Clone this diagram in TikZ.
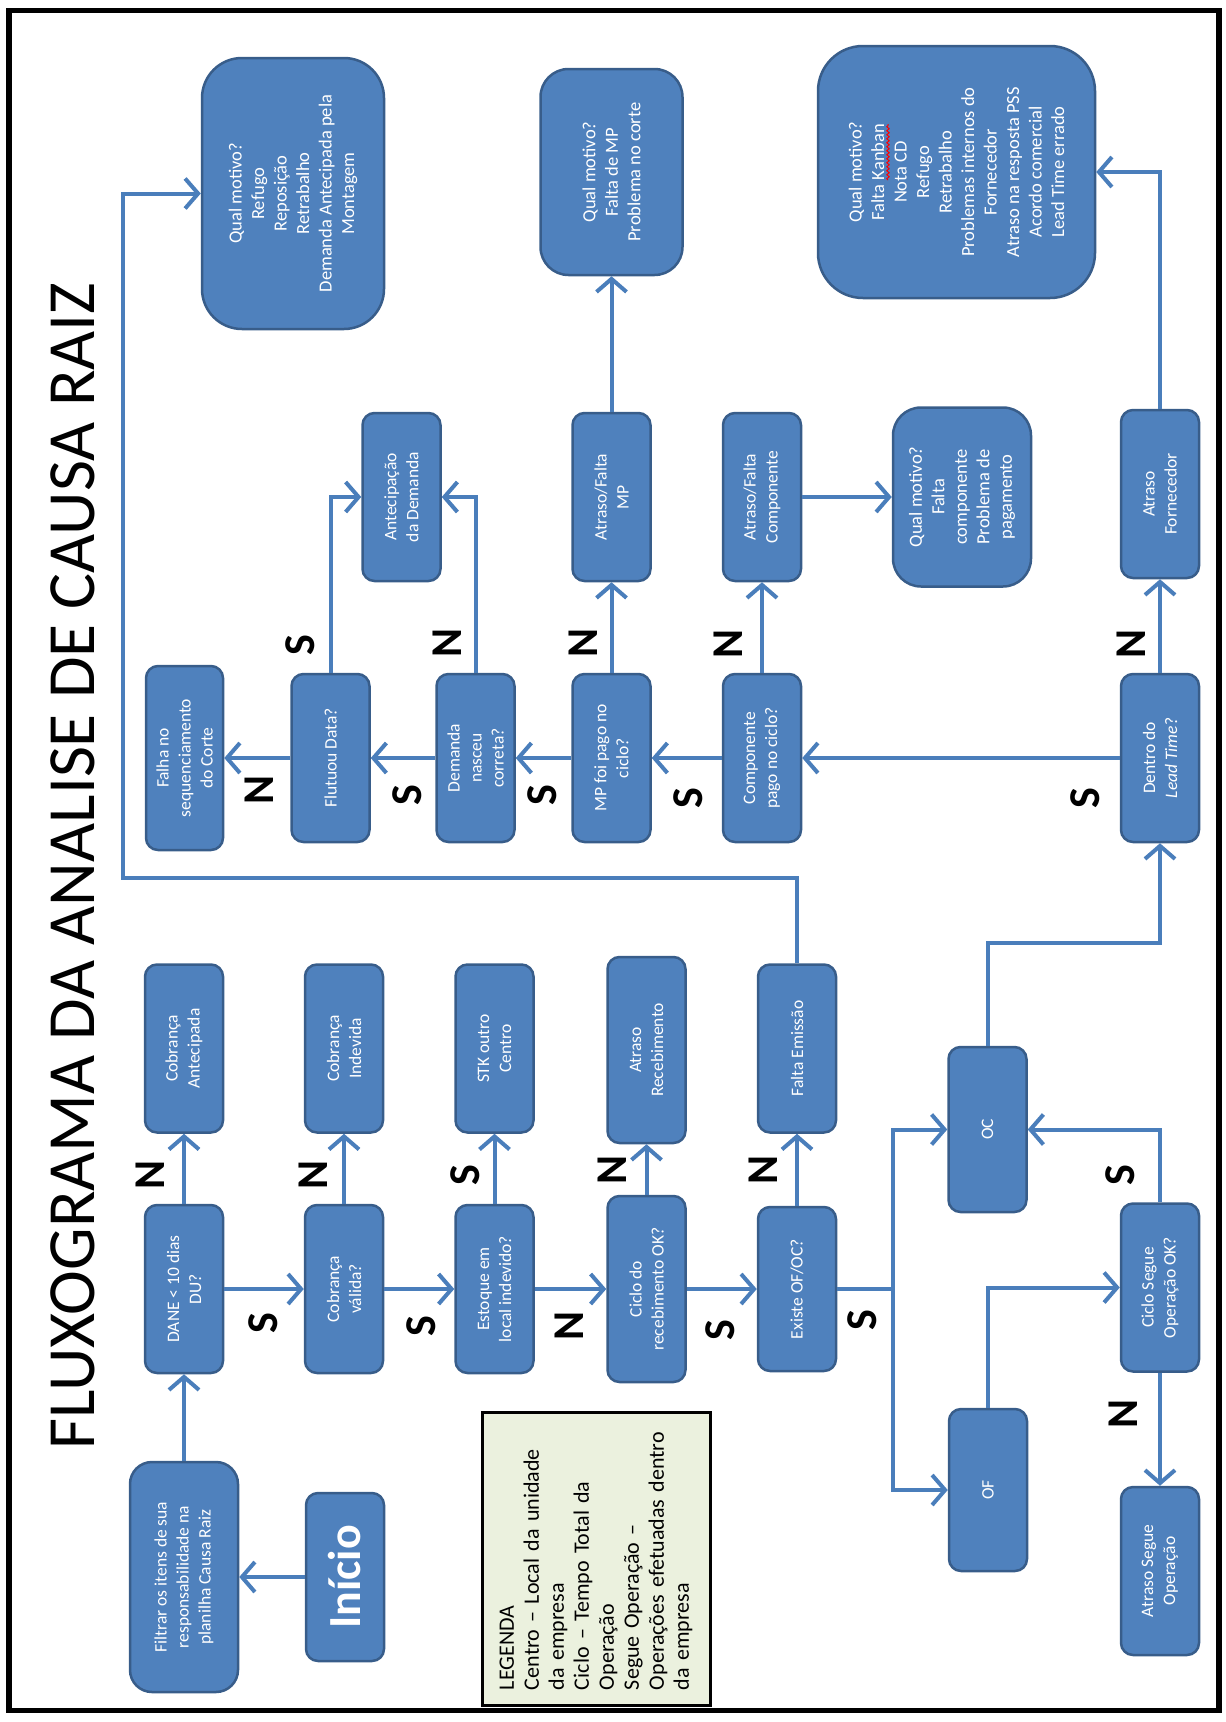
\documentclass[tikz,border=0pt]{standalone}
\usepackage{fontspec}
\setmainfont{Carlito}
\usetikzlibrary{arrows.meta,math,decorations.pathmorphing}

\definecolor{caixaazul}{RGB}{79,129,189}
\definecolor{bordaazul}{RGB}{56,93,138}
\definecolor{linhaazul}{RGB}{74,126,187}
\definecolor{fundoleg}{RGB}{235,241,222}

\begin{document}
\begin{tikzpicture}[x=1pt,y=-1pt,
	caixa/.style={rectangle,rounded corners=12pt,draw=bordaazul,line width=2.5pt,
		fill=caixaazul,text=white,align=center,rotate=90,inner sep=3pt,
		minimum width=168pt,minimum height=78pt,font=\fontsize{17.5}{22}\selectfont},
	motivo/.style={caixa,font=\fontsize{18.5}{22.5}\selectfont},
	seta/.style={draw=linhaazul,line width=4pt,-{Straight Barb[length=13pt,width=30pt]}},
	linha/.style={draw=linhaazul,line width=4pt},
	sn/.style={rotate=90,font=\fontsize{44}{44}\selectfont\bfseries}]

\tikzmath{
	real	\ya, \yb, \yc, \yd;
	\ya = 497;	% caixas de cima
	\yb = 758;	% decisoes de cima
	\yc = 1048.5;	% caixas do meio
	\yd = 1289;	% decisoes de baixo
}

\useasboundingbox (0,0) rectangle (1226,1722);
\draw[line width=5.5pt] (9,10.5) rectangle (1219,1710.5);

\node (titulo) at (73,866) [rotate=90,font=\fontsize{67.5}{67.5}\selectfont]
	{FLUXOGRAMA DA ANALISE DE CAUSA RAIZ};

% inicio
\node (filtrar) at (184,1577) [caixa,rounded corners=22pt,minimum width=230pt,minimum height=108pt]
	{Filtrar os itens de sua\\responsabilidade na\\planilha Causa Raiz};
\node (inicio) at (345,1577) [caixa,font=\fontsize{46}{46}\selectfont\bfseries] {Início};

% decisoes de baixo
\node (dane) at (184,{\yd}) [caixa] {DANE < 10 dias\\DU?};
\node (cobval) at (344,{\yd}) [caixa] {Cobrança\\válida?};
\node (estoque) at (494.5,{\yd}) [caixa] {Estoque em\\local indevido?};
\node (ciclorec) at (646.5,{\yd}) [caixa,minimum width=186pt] {Ciclo do\\recebimento OK?};
\node (existe) at (797,{\yd}) [caixa,minimum width=164pt] {Existe OF/OC?};

\node (cobant) at (184,{\yc}) [caixa] {Cobrança\\Antecipada};
\node (cobind) at (344,{\yc}) [caixa] {Cobrança\\Indevida};
\node (stk) at (494.5,{\yc}) [caixa] {STK outro\\Centro};
\node (atrrec) at (646.5,1050) [caixa,minimum width=186pt] {Atraso\\Recebimento};
\node (faltaem) at (797,{\yc}) [caixa] {Falta Emissão};

\node (oc) at (987.5,1129.5) [caixa,minimum width=165pt] {OC};
\node (of) at (988,1490) [caixa,minimum width=162pt] {OF};
\node (cicloseg) at (1160,1287.5) [caixa] {Ciclo Segue\\Operação OK?};
\node (atrseg) at (1160,1571) [caixa] {Atraso Segue\\Operação};

% decisoes de cima
\node (falha) at (184.5,{\yb}) [caixa,minimum width=184pt,minimum height=77pt]
	{Falha no\\sequenciamento\\do Corte};
\node (flut) at (330.5,{\yb}) [caixa] {Flutuou Data?};
\node (dem) at (475.5,{\yb}) [caixa] {Demanda\\nasceu\\correta?};
\node (mp) at (611.5,{\yb}) [caixa] {MP foi pago no\\ciclo?};
\node (comp) at (762,{\yb}) [caixa] {Componente\\pago no ciclo?};
\node (dentro) at (1160,{\yb}) [caixa] {Dentro do\\\textit{Lead Time}?};

\node (antec) at (401.5,{\ya}) [caixa] {Antecipação\\da Demanda};
\node (atrmp) at (611.5,{\ya}) [caixa] {Atraso/Falta\\MP};
\node (atrcomp) at (762,{\ya}) [caixa] {Atraso/Falta\\Componente};
\node (atrforn) at (1160,494) [caixa] {Atraso\\Fornecedor};

\node (qualref) at (293,193.5) [motivo,rounded corners=40pt,minimum width=271pt,minimum height=182pt]
	{Qual motivo?\\Refugo\\Reposição\\Retrabalho\\Demanda Antecipada pela\\Montagem};
\node (qualmp) at (611.5,172) [motivo,rounded corners=28pt,minimum width=206pt,minimum height=142pt]
	{Qual motivo?\\Falta de MP\\Problema no corte};
\node (qualcomp) at (962,{\ya}) [motivo,rounded corners=28pt,minimum width=179pt,minimum height=138pt]
	{Qual motivo?\\Falta\\componente\\Problema de\\pagamento};
\node (kanban) at (956.5,172) [motivo,rounded corners=45pt,minimum width=252pt,minimum height=277pt]
	{Qual motivo?\\Falta Kanban\\Nota CD\\Refugo\\Retrabalho\\Problemas internos do\\Fornecedor\\Atraso na resposta PSS\\Acordo comercial\\Lead Time errado};
\draw[red,line width=1pt,decorate,decoration={snake,amplitude=1.2pt,segment length=4pt}]
	(888,180)--(888,124);

\node (legenda) at (596,1558.5) [rotate=90,draw=black,line width=3pt,fill=fundoleg,
	minimum width=293pt,minimum height=228pt,text width=263pt,inner xsep=15pt,
	align=left,font=\fontsize{22}{25}\selectfont]
	{LEGENDA\\Centro -- Local da unidade\\da empresa\\Ciclo -- Tempo Total da\\Operação\\Segue Operação --\\Operações efetuadas dentro\\da empresa};

% setas
\draw[seta] (inicio) -- (filtrar);
\draw[seta] (filtrar) -- (dane);
\draw[seta] (dane) -- (cobval);
\draw[seta] (cobval) -- (estoque);
\draw[seta] (estoque) -- (ciclorec);
\draw[seta] (ciclorec) -- (existe);
\draw[seta] (dane) -- (cobant);
\draw[seta] (cobval) -- (cobind);
\draw[seta] (estoque) -- (stk);
\draw[seta] (ciclorec) -- (atrrec);
\draw[seta] (existe) -- (faltaem);

\coordinate (ramo) at (893,{\yd});
\draw[linha] (existe) -- (ramo);
\draw[seta] (ramo) |- (oc);
\draw[seta] (ramo) |- (of);
\draw[seta] (of) |- (cicloseg);
\draw[seta] (cicloseg) |- (oc);
\draw[seta] (cicloseg) -- (atrseg);

\coordinate (canto) at (1160,943);
\draw[seta] (oc) |- (canto) -- (dentro);
\draw[seta] (dentro) -- (atrforn);
\draw[seta] (atrforn) |- (kanban);
\draw[seta] (dentro) -- (comp);
\draw[seta] (comp) -- (mp);
\draw[seta] (mp) -- (dem);
\draw[seta] (dem) -- (flut);
\draw[seta] (flut) -- (falha);
\draw[seta] (flut) |- (antec);
\draw[seta] (dem) |- (antec);
\draw[seta] (mp) -- (atrmp);
\draw[seta] (atrmp) -- (qualmp);
\draw[seta] (comp) -- (atrcomp);
\draw[seta] (atrcomp) -- (qualcomp);

\coordinate (volta) at (123,878);
\draw[seta] (faltaem) |- (volta) |- (qualref);

% S e N
\node (s1) at (263,1323) [sn] {S};
\node (s2) at (421,1326) [sn] {S};
\node (n3) at (569,1326) [sn] {N};
\node (s4) at (720,1330) [sn] {S};
\node (s5) at (862,1320) [sn] {S};
\node (n6) at (150,1175) [sn] {N};
\node (n7) at (313,1175) [sn] {N};
\node (s8) at (465,1175) [sn] {S};
\node (n9) at (612,1170) [sn] {N};
\node (n10) at (763,1170) [sn] {N};
\node (s11) at (1120,1175) [sn] {S};
\node (n12) at (1123,1414) [sn] {N};

\node (n13) at (259,790) [sn] {N};
\node (s14) at (407,795) [sn] {S};
\node (s15) at (542,795) [sn] {S};
\node (s16) at (688,798) [sn] {S};
\node (s17) at (1085,798) [sn] {S};
\node (s18) at (300,645) [sn] {S};
\node (n19) at (447,643) [sn] {N};
\node (n20) at (583,643) [sn] {N};
\node (n21) at (728,644) [sn] {N};
\node (n22) at (1131,644) [sn] {N};

\end{tikzpicture}
\end{document}
